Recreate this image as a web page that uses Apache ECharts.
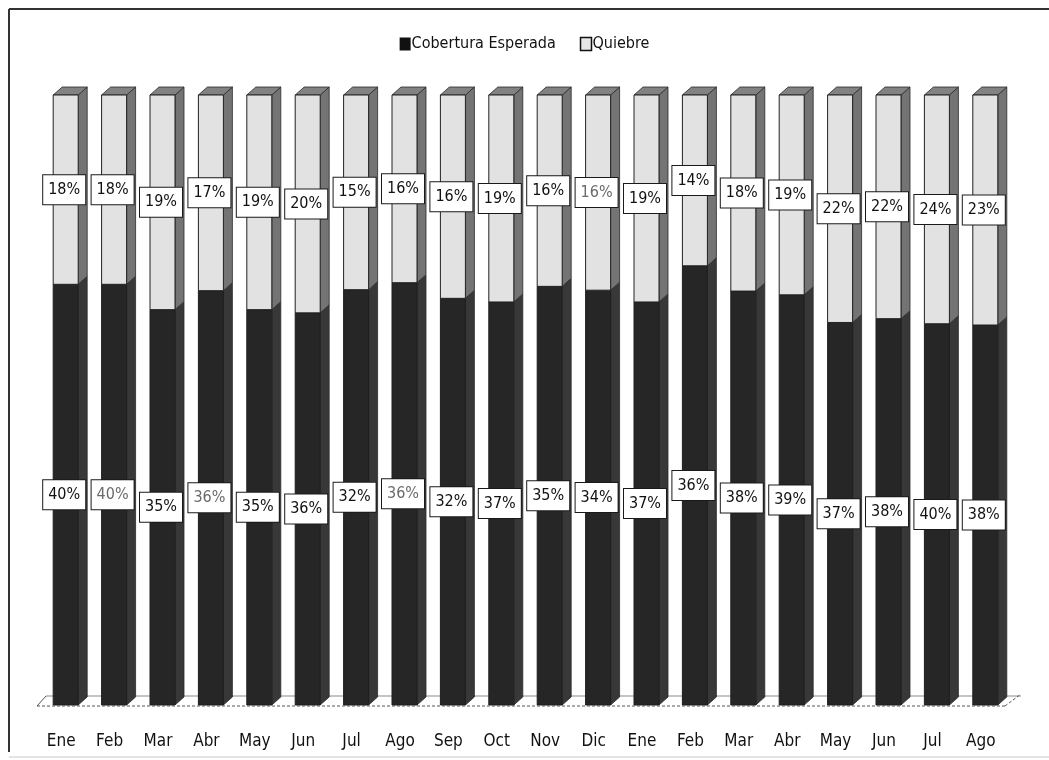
<!DOCTYPE html>
<html>
<head>
<meta charset="utf-8">
<script src="https://cdn.jsdelivr.net/npm/echarts@6/dist/echarts.min.js"></script>
<style>
  html, body { margin: 0; padding: 0; background: #fff; }
  #chart { width: 1049px; height: 760px; }
</style>
</head>
<body>
<div id="chart"></div>
<script>
// Monthly coverage vs. break, shown as shares of each month's total
const months = ['Ene','Feb','Mar','Abr','May','Jun','Jul','Ago','Sep','Oct','Nov','Dic',
                'Ene','Feb','Mar','Abr','May','Jun','Jul','Ago'];
const cobertura = [40,40,35,36,35,36,32,36,32,37,35,34,37,36,38,39,37,38,40,38];
const quiebre   = [18,18,19,17,19,20,15,16,16,19,16,16,19,14,18,19,22,22,24,23];

// labels printed in a lighter tone
const dimCobertura = [1, 3, 7];
const dimQuiebre = [11];

const FONT = "'Liberation Sans Narrow', 'DejaVu Sans Condensed', 'Noto Sans', sans-serif";

// Build [index, start%, end%, raw value] rows for a 100% stack
const coberturaRows = months.map((m, i) => {
  const total = cobertura[i] + quiebre[i];
  return [i, 0, cobertura[i] / total * 100, cobertura[i]];
});
const quiebreRows = months.map((m, i) => {
  const total = cobertura[i] + quiebre[i];
  return [i, cobertura[i] / total * 100, 100, quiebre[i]];
});

function makeRender(palette, withTop, dimList) {
  return function (params, api) {
    const i = api.value(0);
    const lo = api.value(1), hi = api.value(2), raw = api.value(3);
    const c = api.coord([i, 0])[0];
    const yLo = api.coord([i, lo])[1];
    const yHi = api.coord([i, hi])[1];
    const x0 = c - 8, x1 = c + 17;     // front face
    const dx = 9, dy = 8;              // depth offsets
    const children = [];
    // side face
    children.push({
      type: 'polygon',
      shape: { points: [[x1, yHi], [x1 + dx, yHi - dy], [x1 + dx, yLo - dy], [x1, yLo]] },
      style: { fill: palette.side, stroke: '#2a2a2a', lineWidth: 0.8 }
    });
    if (withTop) {
      children.push({
        type: 'polygon',
        shape: { points: [[x0, yHi], [x0 + dx, yHi - dy], [x1 + dx, yHi - dy], [x1, yHi]] },
        style: { fill: palette.top, stroke: '#2a2a2a', lineWidth: 0.8 }
      });
    }
    // front face
    children.push({
      type: 'rect',
      shape: { x: x0, y: yHi, width: x1 - x0, height: yLo - yHi },
      style: { fill: palette.front, stroke: palette.edge, lineWidth: 1 }
    });
    // value label
    children.push({
      type: 'text',
      z2: 10,
      style: {
        text: raw + '%',
        x: c + 3,
        y: (yLo + yHi) / 2,
        align: 'center',
        verticalAlign: 'middle',
        fill: dimList.indexOf(i) >= 0 ? '#6a6a6a' : '#111',
        font: '16px ' + FONT,
        backgroundColor: '#fff',
        borderColor: '#1a1a1a',
        borderWidth: 1,
        padding: [7, 5, 6, 5]
      }
    });
    return { type: 'group', children: children };
  };
}

const chart = echarts.init(document.getElementById('chart'), null, { renderer: 'canvas' });

chart.setOption({
  backgroundColor: '#fff',
  animation: false,
  legend: {
    top: 31,
    left: 'center',
    itemWidth: 11,
    itemHeight: 13,
    itemGap: 24,
    icon: 'rect',
    textStyle: { fontFamily: FONT, fontSize: 16, color: '#111', padding: [0, 0, 0, -4] },
    data: [
      { name: 'Cobertura Esperada', itemStyle: { color: '#111' } },
      { name: 'Quiebre', itemStyle: { color: '#e6e6e6', borderColor: '#111', borderWidth: 1.5 } }
    ]
  },
  grid: { left: 37, right: 44, top: 95, bottom: 55 },
  xAxis: {
    type: 'category',
    data: months,
    axisLine: { show: false },
    axisTick: { show: false },
    axisLabel: { margin: 28, fontFamily: FONT, fontSize: 17, color: '#111' }
  },
  yAxis: {
    type: 'value', min: 0, max: 100, interval: 20,
    show: false
  },
  graphic: [
    // frame
    { type: 'line', shape: { x1: 9, y1: 9, x2: 1049, y2: 9 }, style: { stroke: '#333', lineWidth: 2 } },
    { type: 'line', shape: { x1: 9, y1: 9, x2: 9, y2: 752 }, style: { stroke: '#333', lineWidth: 2 } },
    { type: 'line', shape: { x1: 9, y1: 757, x2: 1049, y2: 757 }, style: { stroke: '#c8c8c8', lineWidth: 1 } },
    // floor
    { type: 'line', z: -1, shape: { x1: 46, y1: 696, x2: 1021, y2: 696 }, style: { stroke: '#b0b0b0', lineWidth: 1.5 } },
    { type: 'line', z: 5, shape: { x1: 37, y1: 706, x2: 1005, y2: 706 }, style: { stroke: '#555', lineWidth: 1.2, lineDash: [3, 2] } },
    { type: 'line', z: 5, shape: { x1: 37, y1: 706, x2: 46, y2: 696 }, style: { stroke: '#555', lineWidth: 1 } },
    { type: 'line', z: 5, shape: { x1: 1005, y1: 706, x2: 1021, y2: 694 }, style: { stroke: '#555', lineWidth: 1, lineDash: [3, 2] } }
  ],
  series: [
    {
      name: 'Cobertura Esperada',
      type: 'custom',
      itemStyle: { color: '#111' },
      renderItem: makeRender({ front: '#262626', side: '#383838', top: '#808080', edge: '#1e1e1e' }, false, dimCobertura),
      encode: { x: 0, y: [1, 2] },
      data: coberturaRows
    },
    {
      name: 'Quiebre',
      type: 'custom',
      itemStyle: { color: '#e6e6e6', borderColor: '#111', borderWidth: 1.5 },
      renderItem: makeRender({ front: '#e2e2e2', side: '#747474', top: '#828282', edge: '#222' }, true, dimQuiebre),
      encode: { x: 0, y: [1, 2] },
      data: quiebreRows
    }
  ]
});
</script>
</body>
</html>
